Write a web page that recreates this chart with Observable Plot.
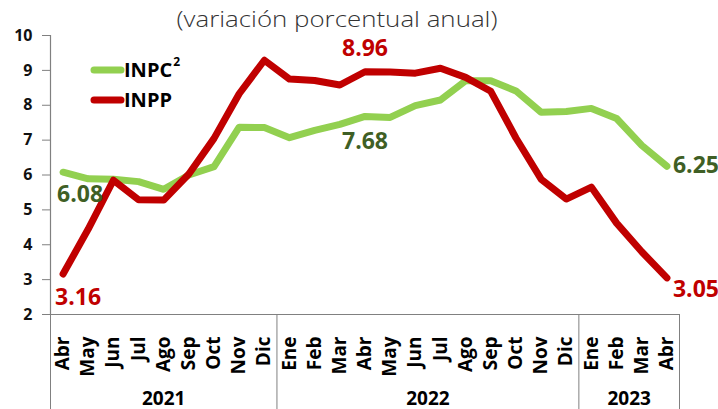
<!DOCTYPE html>
<html>
<head>
<meta charset="utf-8">
<script src="https://cdn.jsdelivr.net/npm/d3@7"></script>
<script src="https://cdn.jsdelivr.net/npm/@observablehq/plot@0.6"></script>
<style>
  html, body { margin: 0; padding: 0; background: #fff; overflow: hidden; }
  #chart svg { display: block; overflow: visible; }
</style>
</head>
<body>
<div id="chart"></div>
<script>
const title = "(variación porcentual anual)";
const months = ["Abr","May","Jun","Jul","Ago","Sep","Oct","Nov","Dic",
  "Ene","Feb","Mar","Abr","May","Jun","Jul","Ago","Sep","Oct","Nov","Dic",
  "Ene","Feb","Mar","Abr"];
const years = ["2021", "2022", "2023"];
const monthsPerYear = [9, 12, 4];
const inpc = [6.08, 5.89, 5.88, 5.81, 5.59, 6.00, 6.24, 7.37, 7.36,
  7.07, 7.28, 7.45, 7.68, 7.65, 7.99, 8.15, 8.70, 8.70, 8.41, 7.80, 7.82,
  7.91, 7.62, 6.85, 6.25];
const inpp = [3.16, 4.45, 5.85, 5.29, 5.28, 6.03, 7.05, 8.33, 9.29,
  8.75, 8.71, 8.58, 8.96, 8.95, 8.92, 9.06, 8.80, 8.40, 7.06, 5.88, 5.31,
  5.65, 4.62, 3.80, 3.05];
const yTicks = [2, 3, 4, 5, 6, 7, 8, 9, 10];
const seriesNames = ["INPC", "INPP"];

const GREEN = "#92D050", RED = "#C00000", DKGREEN = "#3F5F25", GRAY = "#808080";
const FONT = "'Open Sans', 'DejaVu Sans', sans-serif";

const rows = months.map((m, i) => ({i, m, inpc: inpc[i], inpp: inpp[i]}));
const n = months.length;
const last = n - 1;
const labelAt = (key, idx) => rows.filter(d => d.i === idx).map(d => ({i: d.i, v: d[key]}));

// year boundaries & centers
let acc = 0;
const yearInfo = years.map((y, k) => {
  const start = acc; acc += monthsPerYear[k];
  return {year: y, start, end: acc, center: (start + acc - 1) / 2};
});
const seps = [-0.5, ...yearInfo.map(d => d.end - 0.5)];
const fmt = d3.format(".2f");

const chart = Plot.plot({
  width: 718,
  height: 409,
  marginTop: 35,
  marginBottom: 95,
  marginLeft: 50,
  marginRight: 39,
  style: {fontFamily: FONT, background: "#fff"},
  x: {domain: [-0.5, n - 0.5], axis: null},
  y: {domain: [2, 10], axis: null},
  marks: [
    Plot.ruleY([2], {stroke: GRAY, strokeWidth: 1.2}),
    Plot.ruleX([-0.5], {y1: 2, y2: 10, stroke: GRAY, strokeWidth: 1.2}),
    Plot.axisY({ticks: yTicks, tickSize: 8, tickPadding: 10, stroke: GRAY,
      fill: "#111", fontSize: 16, fontWeight: "bold", tickFormat: d => d}),
    Plot.axisX({ticks: seps, tickSize: 95, tickFormat: () => "", stroke: GRAY}),
    Plot.axisX({ticks: d3.range(n), tickSize: 0, tickPadding: 22, tickRotate: -90,
      tickFormat: i => months[i], fill: "#000", fontSize: 19, fontWeight: "bold"}),
    Plot.text(yearInfo, {x: "center", text: "year", frameAnchor: "bottom",
      lineAnchor: "bottom", dy: 90, fontSize: 19, fontWeight: "bold", fill: "#000"}),
    Plot.line(rows, {x: "i", y: "inpc", stroke: GREEN, strokeWidth: 7,
      strokeLinejoin: "round", strokeLinecap: "round"}),
    Plot.line(rows, {x: "i", y: "inpp", stroke: RED, strokeWidth: 7,
      strokeLinejoin: "round", strokeLinecap: "round"}),
    // data labels
    Plot.text(labelAt("inpc", 0), {x: "i", y: "v", text: d => fmt(d.v), textAnchor: "start",
      dx: -6, dy: 22, fill: DKGREEN, fontSize: 23, fontWeight: "bold"}),
    Plot.text(labelAt("inpp", 0), {x: "i", y: "v", text: d => fmt(d.v), textAnchor: "start",
      dx: -8, dy: 24, fill: RED, fontSize: 23, fontWeight: "bold"}),
    Plot.text(labelAt("inpc", 12), {x: "i", y: "v", text: d => fmt(d.v),
      dy: 25, fill: DKGREEN, fontSize: 23, fontWeight: "bold"}),
    Plot.text(labelAt("inpp", 12), {x: "i", y: "v", text: d => fmt(d.v),
      dy: -23, fill: RED, fontSize: 23, fontWeight: "bold"}),
    Plot.text(labelAt("inpc", last), {x: "i", y: "v", text: d => fmt(d.v), textAnchor: "start",
      dx: 6, dy: -1, fill: DKGREEN, fontSize: 23, fontWeight: "bold"}),
    Plot.text(labelAt("inpp", last), {x: "i", y: "v", text: d => fmt(d.v), textAnchor: "start",
      dx: 6, dy: 12, fill: RED, fontSize: 23, fontWeight: "bold"})
  ]
});

document.getElementById("chart").appendChild(chart);

// title and legend (decorations)
const svg = d3.select(chart);
svg.append("text")
  .attr("x", 337).attr("y", 27)
  .attr("text-anchor", "middle")
  .attr("font-family", FONT)
  .attr("font-weight", 300)
  .attr("font-size", 22)
  .attr("fill", "#333")
  .attr("textLength", 321)
  .attr("lengthAdjust", "spacingAndGlyphs")
  .text(title);

const leg = svg.append("g").attr("text-anchor", "start");
[[seriesNames[0], GREEN, 70, "2"], [seriesNames[1], RED, 100, null]].forEach(([name, color, y, sup]) => {
  leg.append("line").attr("x1", 94).attr("x2", 121).attr("y1", y).attr("y2", y)
    .attr("stroke", color).attr("stroke-width", 7).attr("stroke-linecap", "round");
  const t = leg.append("text").attr("x", 124).attr("y", y).attr("dy", "0.36em")
    .attr("text-anchor", "start")
    .attr("font-family", FONT).attr("font-weight", "bold").attr("font-size", 20)
    .attr("fill", "#000").text(name);
  if (sup) t.append("tspan").attr("font-size", 12).attr("dy", "-0.9em").attr("dx", 1).text(sup);
});
</script>
</body>
</html>
